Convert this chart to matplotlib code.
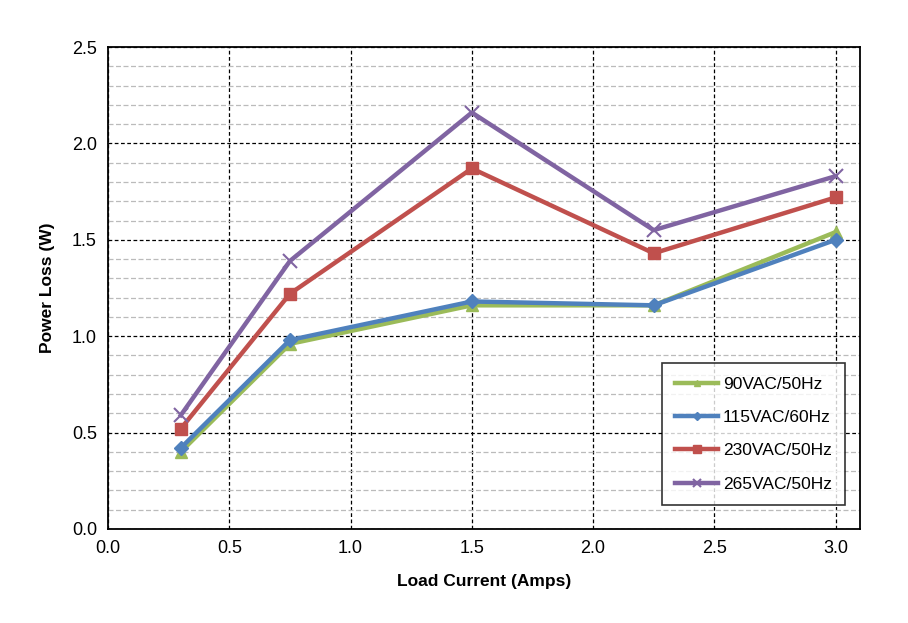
import numpy as np
import matplotlib.pyplot as plt
from matplotlib.ticker import MultipleLocator

plt.rcParams['font.family'] = ['Liberation Sans', 'DejaVu Sans']

# data
load_current = [0.3, 0.75, 1.5, 2.25, 3.0]
loss_90vac = [0.40, 0.96, 1.16, 1.16, 1.54]
loss_115vac = [0.42, 0.98, 1.18, 1.16, 1.50]
loss_230vac = [0.52, 1.22, 1.87, 1.43, 1.72]
loss_265vac = [0.59, 1.39, 2.16, 1.55, 1.83]

series = [
    ("90VAC/50Hz", loss_90vac, "#9BBB59", "^", 8),
    ("115VAC/60Hz", loss_115vac, "#4F81BD", "D", 7),
    ("230VAC/50Hz", loss_230vac, "#C0504D", "s", 9),
    ("265VAC/50Hz", loss_265vac, "#8064A2", "x", 10),
]

fig = plt.figure(figsize=(9.08, 6.23), dpi=100)
ax = fig.add_axes([0.119, 0.151, 0.828, 0.7735])

for label, y, color, marker, ms in series:
    ax.plot(load_current, y, color=color, linewidth=3.2, marker=marker,
            markersize=ms, markeredgewidth=1.5 if marker == "x" else 1,
            markeredgecolor=color, label=label)

ax.set_xlim(0, 3.1)
ax.set_ylim(0, 2.5)
ax.xaxis.set_major_locator(MultipleLocator(0.5))
ax.yaxis.set_major_locator(MultipleLocator(0.5))
ax.yaxis.set_minor_locator(MultipleLocator(0.1))
ax.xaxis.set_major_formatter(plt.FormatStrFormatter('%.1f'))
ax.yaxis.set_major_formatter(plt.FormatStrFormatter('%.1f'))

ax.grid(which='major', color='black', linestyle=(0, (3, 2)), linewidth=0.9)
ax.grid(which='minor', axis='y', color='#BBBBBB', linestyle=(0, (4, 2)), linewidth=0.9)
ax.set_axisbelow(True)
ax.tick_params(which='minor', length=0)
ax.tick_params(which='major', length=0, labelsize=13, pad=8)

for s in ax.spines.values():
    s.set_linewidth(1.3)

ax.set_xlabel("Load Current (Amps)", fontsize=12.5, fontweight='bold', labelpad=12)
ax.set_ylabel("Power Loss (W)", fontsize=12.5, fontweight='bold', labelpad=12)

leg = ax.legend(loc='lower right', bbox_to_anchor=(0.98, 0.05), borderaxespad=0,
                fontsize=12.5, frameon=True, fancybox=False, edgecolor='black',
                handlelength=2.5, labelspacing=1.05, borderpad=0.75,
                handletextpad=0.25, markerscale=0.6)
leg.get_frame().set_linewidth(1.2)

plt.savefig("out.png", dpi=100)
